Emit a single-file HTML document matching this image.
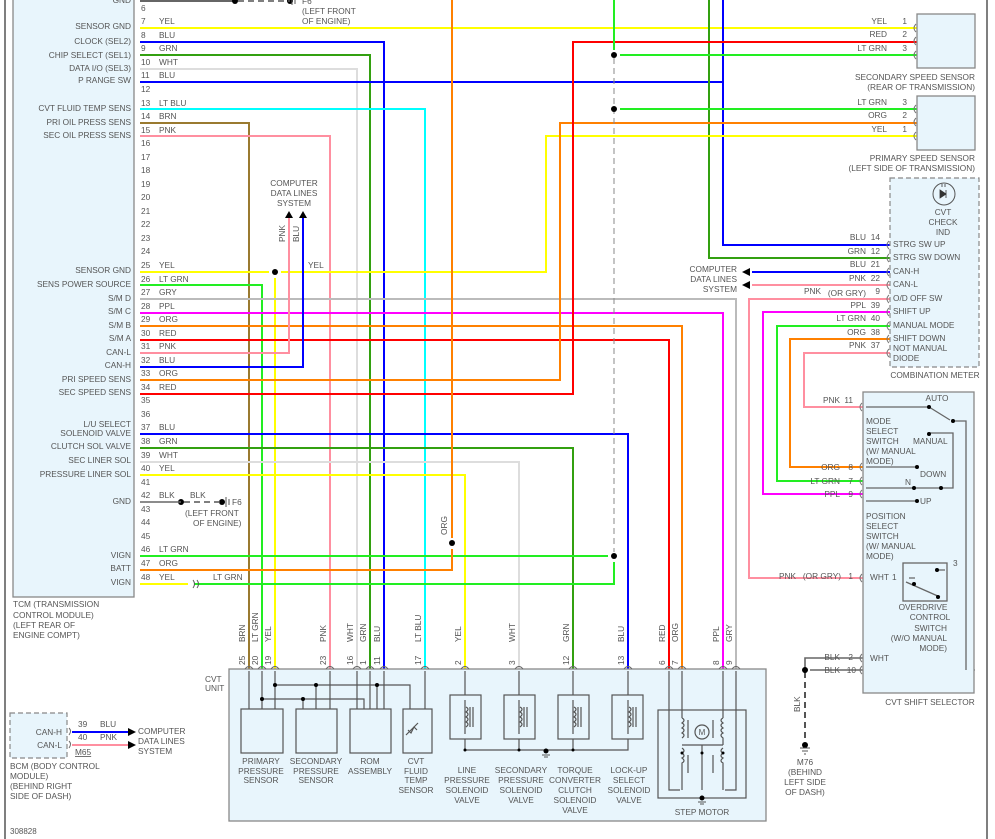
<!DOCTYPE html>
<html><head><meta charset="utf-8"><style>
html,body{margin:0;padding:0;background:#fff}
svg{display:block}
text{font-family:"Liberation Sans",sans-serif;font-size:8.3px;fill:#555}
.w{fill:none;stroke-width:2}
.k{fill:none;stroke:#666;stroke-width:1.3}
.r{text-anchor:end}
.m{text-anchor:middle}
</style></head><body>
<svg width="995" height="839" viewBox="0 0 995 839" xmlns="http://www.w3.org/2000/svg">
<defs>
<pattern id="zz" patternUnits="userSpaceOnUse" x="0" y="1" width="10" height="13.55">
<path d="M137.5,0 q4,3.4 0,6.8 q4,3.4 0,6.75" fill="none" stroke="#777" stroke-width="1"/>
</pattern>
</defs>
<line x1="5" y1="0" x2="5" y2="839" stroke="#555" stroke-width="1.5"/>
<line x1="987" y1="0" x2="987" y2="839" stroke="#555" stroke-width="1.5"/>

<rect x="13" y="-2" width="121" height="599" fill="#e8f5fc" stroke="#888" stroke-width="1.3"/>
<rect x="136" y="1" width="7" height="589" fill="url(#zz)"/>

<g class="w">
<line x1="140" y1="1" x2="235" y2="1" stroke="#666"/>
<path d="M140,28 H917" stroke="#ffff00"/>
<path d="M140,42 H384 V669" stroke="#0000ff"/>
<path d="M140,55 H370 V669" stroke="#33a010"/>
<path d="M140,69 H357 V669" stroke="#dddddd"/>
<path d="M140,82 H723 M723,0 V245 H917" stroke="#0000ff"/>
<path d="M709,0 V258 H917" stroke="#33a010"/>
<path d="M140,109 H425 V669" stroke="#00ffff"/>
<path d="M140,123 H249 V669" stroke="#9a7a30"/>
<path d="M140,136 H330 V669" stroke="#ff8fa0"/>
<path d="M140,272 H269 M281,272 H546 V136 H917" stroke="#ffff00"/>
<path d="M275,278 V669" stroke="#ffff00"/>
<path d="M140,285 H262 V669" stroke="#22ee22"/>
<path d="M140,299 H736 V669" stroke="#bbbbbb"/>
<path d="M140,313 H723 V669" stroke="#ff00ff"/>
<path d="M140,326 H682 V669" stroke="#ff8000"/>
<path d="M140,340 H669 V669" stroke="#ff0000"/>
<path d="M140,353 H289 V218" stroke="#ff8fa0"/>
<path d="M140,367 H303 V218" stroke="#0000ff"/>
<path d="M140,380 H560 V123 H917" stroke="#ff8000"/>
<path d="M140,394 H573 V42 H917" stroke="#ff0000"/>
<path d="M140,434 H628 V669" stroke="#0000ff"/>
<path d="M140,448 H573 V669" stroke="#33a010"/>
<path d="M140,462 H519 V669" stroke="#dddddd"/>
<path d="M140,475 H465 V669" stroke="#ffff00"/>
<path d="M140,556 H608" stroke="#22ee22"/>
<path d="M140,570 H452 V549 M452,538 V0" stroke="#ff8000"/>
<path d="M140,584 H188" stroke="#ffff00"/>
<path d="M194,584 H614 V562" stroke="#22ee22"/>
<path d="M614,0 V50 M620,55 H917 M620,109 H917" stroke="#22ee22"/>
<path d="M917,299 H749 V578 H863" stroke="#ff8fa0"/>
<path d="M917,312 H763 V494 H863" stroke="#ff00ff"/>
<path d="M917,326 H777 V481 H863" stroke="#22ee22"/>
<path d="M917,339 H790 V467 H863" stroke="#ff8000"/>
<path d="M917,353 H804 V407 H863" stroke="#ff8fa0"/>
<path d="M917,272 H752" stroke="#0000ff"/>
<path d="M917,285 H752" stroke="#ff8fa0"/>
<path d="M72,732 H130" stroke="#0000ff"/>
<path d="M72,745 H130" stroke="#ff8fa0"/>
<path d="M863,658 H805 V670" stroke="#666" stroke-width="1.6"/>
<path d="M810,670 H863" stroke="#666" stroke-width="1.6"/>
<path d="M863,578 H900" stroke="#ddd" stroke-width="1.6"/>
<path d="M863,658 H965 V568 H956" stroke="#ddd" stroke-width="1.6"/>
<path d="M863,670 H975" stroke="#777" stroke-width="1.3"/>
</g>
<g fill="none" stroke="#777" stroke-width="1">
<path d="M916,24 q-4,4 0,8 M916,37 q-4,4 0,8 M916,51 q-4,4 0,8 M916,105 q-4,4 0,8 M916,118 q-4,4 0,8 M916,132 q-4,4 0,8"/>
<path d="M889,241 q-4,4 0,8 M889,254 q-4,4 0,8 M889,268 q-4,4 0,8 M889,281 q-4,4 0,8 M889,295 q-4,4 0,8 M889,308 q-4,4 0,8 M889,322 q-4,4 0,8 M889,335 q-4,4 0,8 M889,349 q-4,4 0,8"/>
<path d="M862,403 q-4,4 0,8 M862,463 q-4,4 0,8 M862,477 q-4,4 0,8 M862,490 q-4,4 0,8 M862,574 q-4,4 0,8 M862,654 q-4,4 0,8 M862,666 q-4,4 0,8 M902,574 q-4,4 0,8 M951,566 q4,4 0,8"/>
</g>
<line x1="614" y1="58" x2="614" y2="552" stroke="#888" stroke-width="1" stroke-dasharray="6,4"/>
<line x1="805" y1="672" x2="805" y2="740" stroke="#555" stroke-width="2" stroke-dasharray="6,4"/>
<g fill="#000">
<circle cx="614" cy="55" r="3"/><circle cx="614" cy="109" r="3"/><circle cx="614" cy="556" r="3"/>
<circle cx="452" cy="543" r="3"/><circle cx="275" cy="272" r="3"/>
<circle cx="235" cy="1" r="3"/><circle cx="290" cy="1" r="3"/>
<circle cx="181" cy="502" r="3"/><circle cx="222" cy="502" r="3"/>
<circle cx="805" cy="670" r="3"/><circle cx="805" cy="745" r="3"/>
</g>
<line x1="140" y1="502" x2="181" y2="502" stroke="#666" stroke-width="1.6"/>
<line x1="184" y1="502" x2="222" y2="502" stroke="#555" stroke-width="1.6" stroke-dasharray="6,4"/>
<line x1="238" y1="1" x2="290" y2="1" stroke="#555" stroke-width="1.6" stroke-dasharray="6,4"/>
<path d="M226,497 v10 M229,499 v6 M193,580 q3,4 0,8 M197,580 q3,4 0,8" stroke="#555" fill="none"/>
<path d="M292,-3 v8 M295,-2 v6" stroke="#555"/>
<path d="M800,748 h10 M802,751 h6 M804,754 h2" stroke="#555"/>
<g fill="#000">
<path d="M285,218 l4,-7 l4,7z"/><path d="M299,218 l4,-7 l4,7z"/>
<path d="M742,272 l8,-4 v8z"/><path d="M742,285 l8,-4 v8z"/>
<path d="M128,728 l8,4 l-8,4z"/><path d="M128,741 l8,4 l-8,4z"/>
</g>

<g>
<text x="131" y="3" class="r">GND</text>
<text x="131" y="29" class="r">SENSOR GND</text>
<text x="131" y="44" class="r">CLOCK (SEL2)</text>
<text x="131" y="58" class="r">CHIP SELECT (SEL1)</text>
<text x="131" y="71" class="r">DATA I/O (SEL3)</text>
<text x="131" y="83" class="r">P RANGE SW</text>
<text x="131" y="111" class="r">CVT FLUID TEMP SENS</text>
<text x="131" y="125" class="r">PRI OIL PRESS SENS</text>
<text x="131" y="138" class="r">SEC OIL PRESS SENS</text>
<text x="131" y="273" class="r">SENSOR GND</text>
<text x="131" y="287" class="r">SENS POWER SOURCE</text>
<text x="131" y="301" class="r">S/M D</text>
<text x="131" y="314" class="r">S/M C</text>
<text x="131" y="328" class="r">S/M B</text>
<text x="131" y="341" class="r">S/M A</text>
<text x="131" y="355" class="r">CAN-L</text>
<text x="131" y="368" class="r">CAN-H</text>
<text x="131" y="382" class="r">PRI SPEED SENS</text>
<text x="131" y="395" class="r">SEC SPEED SENS</text>
<text x="131" y="427" class="r">L/U SELECT</text>
<text x="131" y="436" class="r">SOLENOID VALVE</text>
<text x="131" y="449" class="r">CLUTCH SOL VALVE</text>
<text x="131" y="463" class="r">SEC LINER SOL</text>
<text x="131" y="477" class="r">PRESSURE LINER SOL</text>
<text x="131" y="504" class="r">GND</text>
<text x="131" y="558" class="r">VIGN</text>
<text x="131" y="571" class="r">BATT</text>
<text x="131" y="585" class="r">VIGN</text>
<text x="13" y="607">TCM (TRANSMISSION</text>
<text x="13" y="618">CONTROL MODULE)</text>
<text x="13" y="628">(LEFT REAR OF</text>
<text x="13" y="638">ENGINE COMPT)</text>
<text x="10" y="834" style="font-size:8px">308828</text>
</g>
<g>
<text x="141" y="11">6</text>
<text x="141" y="24">7</text><text x="159" y="24">YEL</text>
<text x="141" y="38">8</text><text x="159" y="38">BLU</text>
<text x="141" y="51">9</text><text x="159" y="51">GRN</text>
<text x="141" y="65">10</text><text x="159" y="65">WHT</text>
<text x="141" y="78">11</text><text x="159" y="78">BLU</text>
<text x="141" y="92">12</text>
<text x="141" y="106">13</text><text x="159" y="106">LT BLU</text>
<text x="141" y="119">14</text><text x="159" y="119">BRN</text>
<text x="141" y="133">15</text><text x="159" y="133">PNK</text>
<text x="141" y="146">16</text><text x="141" y="160">17</text><text x="141" y="173">18</text>
<text x="141" y="187">19</text><text x="141" y="200">20</text><text x="141" y="214">21</text>
<text x="141" y="227">22</text><text x="141" y="241">23</text><text x="141" y="254">24</text>
<text x="141" y="268">25</text><text x="159" y="268">YEL</text>
<text x="141" y="282">26</text><text x="159" y="282">LT GRN</text>
<text x="141" y="295">27</text><text x="159" y="295">GRY</text>
<text x="141" y="309">28</text><text x="159" y="309">PPL</text>
<text x="141" y="322">29</text><text x="159" y="322">ORG</text>
<text x="141" y="336">30</text><text x="159" y="336">RED</text>
<text x="141" y="349">31</text><text x="159" y="349">PNK</text>
<text x="141" y="363">32</text><text x="159" y="363">BLU</text>
<text x="141" y="376">33</text><text x="159" y="376">ORG</text>
<text x="141" y="390">34</text><text x="159" y="390">RED</text>
<text x="141" y="403">35</text><text x="141" y="417">36</text>
<text x="141" y="430">37</text><text x="159" y="430">BLU</text>
<text x="141" y="444">38</text><text x="159" y="444">GRN</text>
<text x="141" y="458">39</text><text x="159" y="458">WHT</text>
<text x="141" y="471">40</text><text x="159" y="471">YEL</text>
<text x="141" y="485">41</text>
<text x="141" y="498">42</text><text x="159" y="498">BLK</text><text x="190" y="498">BLK</text>
<text x="141" y="512">43</text><text x="141" y="525">44</text><text x="141" y="539">45</text>
<text x="141" y="552">46</text><text x="159" y="552">LT GRN</text>
<text x="141" y="566">47</text><text x="159" y="566">ORG</text>
<text x="141" y="580">48</text><text x="159" y="580">YEL</text><text x="213" y="580">LT GRN</text>
<text x="232" y="505">F6</text>
<text x="185" y="516">(LEFT FRONT</text><text x="193" y="526">OF ENGINE)</text>
<text x="302" y="4">F6</text>
<text x="302" y="14">(LEFT FRONT</text><text x="302" y="24">OF ENGINE)</text>
<text x="294" y="186" class="m">COMPUTER</text><text x="294" y="196" class="m">DATA LINES</text><text x="294" y="206" class="m">SYSTEM</text>
<text x="308" y="268">YEL</text>
<text transform="translate(285,242) rotate(-90)">PNK</text>
<text transform="translate(299,242) rotate(-90)">BLU</text>
<text transform="translate(447,535) rotate(-90)">ORG</text>
</g>

<rect x="917" y="14" width="58" height="54" fill="#e8f5fc" stroke="#888" stroke-width="1.3"/>
<rect x="917" y="96" width="58" height="54" fill="#e8f5fc" stroke="#888" stroke-width="1.3"/>
<g>
<text x="887" y="24" class="r">YEL</text><text x="907" y="24" class="r">1</text>
<text x="887" y="37" class="r">RED</text><text x="907" y="37" class="r">2</text>
<text x="887" y="51" class="r">LT GRN</text><text x="907" y="51" class="r">3</text>
<text x="975" y="80" class="r">SECONDARY SPEED SENSOR</text>
<text x="975" y="90" class="r">(REAR OF TRANSMISSION)</text>
<text x="887" y="105" class="r">LT GRN</text><text x="907" y="105" class="r">3</text>
<text x="887" y="118" class="r">ORG</text><text x="907" y="118" class="r">2</text>
<text x="887" y="132" class="r">YEL</text><text x="907" y="132" class="r">1</text>
<text x="975" y="161" class="r">PRIMARY SPEED SENSOR</text>
<text x="975" y="171" class="r">(LEFT SIDE OF TRANSMISSION)</text>
</g>
<rect x="890" y="178" width="89" height="189" fill="#e8f5fc" stroke="#888" stroke-width="1.2" stroke-dasharray="5,3"/>
<circle cx="944" cy="194" r="11" fill="none" stroke="#555"/>
<path d="M940,190 l6,4 l-6,4z M946,190 v8 M942,187 v-3 M945,187 v-3" fill="#333" stroke="#333" stroke-width="0.8"/>
<text x="943" y="215" class="m">CVT</text><text x="943" y="225" class="m">CHECK</text><text x="943" y="235" class="m">IND</text>
<text x="893" y="247">STRG SW UP</text>
<text x="893" y="260">STRG SW DOWN</text>
<text x="893" y="274">CAN-H</text>
<text x="893" y="287">CAN-L</text>
<text x="893" y="301">O/D OFF SW</text>
<text x="893" y="314">SHIFT UP</text>
<text x="893" y="328">MANUAL MODE</text>
<text x="893" y="341">SHIFT DOWN</text>
<text x="893" y="351">NOT MANUAL</text>
<text x="893" y="361">DIODE</text>
<text x="935" y="378" class="m">COMBINATION METER</text>
<text x="866" y="240" class="r">BLU</text><text x="880" y="240" class="r">14</text>
<text x="866" y="254" class="r">GRN</text><text x="880" y="254" class="r">12</text>
<text x="866" y="267" class="r">BLU</text><text x="880" y="267" class="r">21</text>
<text x="866" y="281" class="r">PNK</text><text x="880" y="281" class="r">22</text>
<text x="821" y="294" class="r">PNK</text><text x="866" y="296" class="r">(OR GRY)</text><text x="880" y="294" class="r">9</text>
<text x="866" y="308" class="r">PPL</text><text x="880" y="308" class="r">39</text>
<text x="866" y="321" class="r">LT GRN</text><text x="880" y="321" class="r">40</text>
<text x="866" y="335" class="r">ORG</text><text x="880" y="335" class="r">38</text>
<text x="866" y="348" class="r">PNK</text><text x="880" y="348" class="r">37</text>
<text x="737" y="272" class="r">COMPUTER</text><text x="737" y="282" class="r">DATA LINES</text><text x="737" y="292" class="r">SYSTEM</text>

<rect x="863" y="392" width="111" height="301" fill="#e8f5fc" stroke="#888" stroke-width="1.3"/>
<g fill="none" stroke="#666" stroke-width="1.3">
<path d="M866,407 H929 L950,420 M953,421 H966 V670"/>
<path d="M929,433 H953 V488 H866"/>
<path d="M866,467 H917 M866,501 H917"/>
<rect x="903" y="563" width="44" height="38" fill="#e8f5fc"/>
<path d="M906,582 L940,597 M915,578 h-6 M936,570 h9"/>
</g>
<g fill="#000"><circle cx="929" cy="407" r="2"/><circle cx="953" cy="421" r="2"/><circle cx="929" cy="434" r="2"/>
<circle cx="917" cy="467" r="2"/><circle cx="914" cy="488" r="2"/><circle cx="941" cy="488" r="2"/><circle cx="917" cy="501" r="2"/>
<circle cx="914" cy="584" r="2"/><circle cx="938" cy="597" r="2"/><circle cx="937" cy="570" r="2"/></g>
<text x="937" y="401" class="m">AUTO</text>
<text x="866" y="424">MODE</text><text x="866" y="434">SELECT</text><text x="866" y="444">SWITCH</text><text x="866" y="454">(W/ MANUAL</text><text x="866" y="464">MODE)</text>
<text x="913" y="444">MANUAL</text>
<text x="920" y="477">DOWN</text><text x="905" y="485">N</text><text x="920" y="504">UP</text>
<text x="866" y="519">POSITION</text><text x="866" y="529">SELECT</text><text x="866" y="539">SWITCH</text><text x="866" y="549">(W/ MANUAL</text><text x="866" y="559">MODE)</text>
<text x="870" y="580">WHT</text><text x="892" y="580">1</text><text x="953" y="566">3</text>
<text x="923" y="610" class="m">OVERDRIVE</text><text x="930" y="620" class="m">CONTROL</text><text x="947" y="631" class="r">SWITCH</text>
<text x="947" y="641" class="r">(W/O MANUAL</text><text x="947" y="651" class="r">MODE)</text>
<text x="870" y="661">WHT</text>
<text x="930" y="705" class="m">CVT SHIFT SELECTOR</text>
<text x="840" y="403" class="r">PNK</text><text x="853" y="403" class="r">11</text>
<text x="840" y="470" class="r">ORG</text><text x="853" y="470" class="r">8</text>
<text x="840" y="484" class="r">LT GRN</text><text x="853" y="484" class="r">7</text>
<text x="840" y="497" class="r">PPL</text><text x="853" y="497" class="r">9</text>
<text x="796" y="579" class="r">PNK</text><text x="841" y="579" class="r">(OR GRY)</text><text x="853" y="579" class="r">1</text>
<text x="840" y="660" class="r">BLK</text><text x="853" y="660" class="r">2</text>
<text x="840" y="673" class="r">BLK</text><text x="856" y="673" class="r">10</text>
<text transform="translate(800,712) rotate(-90)">BLK</text>
<text x="805" y="765" class="m">M76</text><text x="805" y="775" class="m">(BEHIND</text><text x="805" y="785" class="m">LEFT SIDE</text><text x="805" y="795" class="m">OF DASH)</text>

<rect x="229" y="669" width="537" height="152" fill="#e8f5fc" stroke="#888" stroke-width="1.3"/>
<text x="205" y="682">CVT</text><text x="205" y="691">UNIT</text>
<g fill="none" stroke="#666" stroke-width="1">
<path d="M245,669 q4,-5 8,0 M258,669 q4,-5 8,0 M271,669 q4,-5 8,0 M326,669 q4,-5 8,0 M353,669 q4,-5 8,0 M366,669 q4,-5 8,0 M380,669 q4,-5 8,0 M421,669 q4,-5 8,0 M461,669 q4,-5 8,0 M515,669 q4,-5 8,0 M569,669 q4,-5 8,0 M624,669 q4,-5 8,0 M665,669 q4,-5 8,0 M678,669 q4,-5 8,0 M719,669 q4,-5 8,0 M732,669 q4,-5 8,0"/>
</g>
<g fill="none" stroke="#555" stroke-width="1.2">
<path d="M249,671 V709 M262,671 V709 M275,671 V709 M330,671 V709 M357,671 V709 M370,671 V709 M384,671 V709 M425,671 V745 H415"/>
<path d="M275,685 H410 V735 M316,685 V709 M377,685 V709 M262,699 H364 V709 M303,699 V709"/>
<path d="M465,671 V750 H628 V671 M519,671 V750 M573,671 V750"/>
<path d="M669,671 V790 H680 M682,671 V718 M723,671 V718 M736,671 V790 H725 M682,773 V790 M723,773 V790 M682,745 H723 M702,745 V790"/>
<rect x="241" y="709" width="42" height="44" fill="#e8f5fc"/>
<rect x="296" y="709" width="41" height="44" fill="#e8f5fc"/>
<rect x="350" y="709" width="41" height="44" fill="#e8f5fc"/>
<rect x="403" y="709" width="29" height="44" fill="#e8f5fc"/>
<rect x="450" y="695" width="31" height="44" fill="#e8f5fc"/>
<rect x="504" y="695" width="31" height="44" fill="#e8f5fc"/>
<rect x="558" y="695" width="31" height="44" fill="#e8f5fc"/>
<rect x="612" y="695" width="31" height="44" fill="#e8f5fc"/>
<rect x="658" y="710" width="88" height="88"/>
<path d="M465,700 V734 M519,700 V734 M573,700 V734 M628,700 V734"/>
<path d="M466,707 q4,2 0,5 q4,2 0,5 q4,2 0,5 q4,2 0,5 M470,707 v20 M473,707 v20 M520,707 q4,2 0,5 q4,2 0,5 q4,2 0,5 q4,2 0,5 M524,707 v20 M527,707 v20 M574,707 q4,2 0,5 q4,2 0,5 q4,2 0,5 q4,2 0,5 M578,707 v20 M581,707 v20 M629,707 q4,2 0,5 q4,2 0,5 q4,2 0,5 q4,2 0,5 M633,707 v20 M636,707 v20"/>
<path d="M406,735 l12,-12 M408,730 l3,3 l3,-6 l3,3"/>
<path d="M682,718 q4,2 0,5 q4,2 0,5 q4,2 0,5 q4,2 0,5 M682,773 V763 q4,-2 0,-5 q4,-2 0,-5 q4,-2 0,-5 M723,718 q-4,2 0,5 q-4,2 0,5 q-4,2 0,5 q-4,2 0,5 V745 M723,773 V763 q-4,-2 0,-5 q-4,-2 0,-5 q-4,-2 0,-5 M688,720 v18 M713,720 v18 M688,755 v18 M713,755 v18"/>
<circle cx="702" cy="732" r="7"/>
</g>
<text x="702" y="735" class="m" style="font-size:8px">M</text>
<g fill="#000"><circle cx="275" cy="685" r="2"/><circle cx="316" cy="685" r="2"/><circle cx="377" cy="685" r="2"/><circle cx="262" cy="699" r="2"/><circle cx="303" cy="699" r="2"/>
<circle cx="465" cy="750" r="1.5"/><circle cx="519" cy="750" r="1.5"/><circle cx="573" cy="750" r="1.5"/><circle cx="546" cy="751" r="2.5"/>
<circle cx="682" cy="753" r="1.5"/><circle cx="702" cy="753" r="1.5"/><circle cx="723" cy="753" r="1.5"/><circle cx="702" cy="798" r="2.5"/></g>
<path d="M542,755 h8 M544,757 h4 M698,802 h8 M700,804 h4" stroke="#555"/>
<g>
<text transform="translate(245,665) rotate(-90)">25</text><text transform="translate(245,642) rotate(-90)">BRN</text>
<text transform="translate(258,665) rotate(-90)">20</text><text transform="translate(258,642) rotate(-90)">LT GRN</text>
<text transform="translate(271,665) rotate(-90)">19</text><text transform="translate(271,642) rotate(-90)">YEL</text>
<text transform="translate(326,665) rotate(-90)">23</text><text transform="translate(326,642) rotate(-90)">PNK</text>
<text transform="translate(353,665) rotate(-90)">16</text><text transform="translate(353,642) rotate(-90)">WHT</text>
<text transform="translate(366,665) rotate(-90)">1</text><text transform="translate(366,642) rotate(-90)">GRN</text>
<text transform="translate(380,665) rotate(-90)">11</text><text transform="translate(380,642) rotate(-90)">BLU</text>
<text transform="translate(421,665) rotate(-90)">17</text><text transform="translate(421,642) rotate(-90)">LT BLU</text>
<text transform="translate(461,665) rotate(-90)">2</text><text transform="translate(461,642) rotate(-90)">YEL</text>
<text transform="translate(515,665) rotate(-90)">3</text><text transform="translate(515,642) rotate(-90)">WHT</text>
<text transform="translate(569,665) rotate(-90)">12</text><text transform="translate(569,642) rotate(-90)">GRN</text>
<text transform="translate(624,665) rotate(-90)">13</text><text transform="translate(624,642) rotate(-90)">BLU</text>
<text transform="translate(665,665) rotate(-90)">6</text><text transform="translate(665,642) rotate(-90)">RED</text>
<text transform="translate(678,665) rotate(-90)">7</text><text transform="translate(678,642) rotate(-90)">ORG</text>
<text transform="translate(719,665) rotate(-90)">8</text><text transform="translate(719,642) rotate(-90)">PPL</text>
<text transform="translate(732,665) rotate(-90)">9</text><text transform="translate(732,642) rotate(-90)">GRY</text>
</g>
<g>
<text x="261" y="764" class="m">PRIMARY</text><text x="261" y="774" class="m">PRESSURE</text><text x="261" y="783" class="m">SENSOR</text>
<text x="316" y="764" class="m">SECONDARY</text><text x="316" y="774" class="m">PRESSURE</text><text x="316" y="783" class="m">SENSOR</text>
<text x="370" y="764" class="m">ROM</text><text x="370" y="774" class="m">ASSEMBLY</text>
<text x="416" y="764" class="m">CVT</text><text x="416" y="774" class="m">FLUID</text><text x="416" y="783" class="m">TEMP</text><text x="416" y="793" class="m">SENSOR</text>
<text x="467" y="773" class="m">LINE</text><text x="467" y="783" class="m">PRESSURE</text><text x="467" y="793" class="m">SOLENOID</text><text x="467" y="803" class="m">VALVE</text>
<text x="521" y="773" class="m">SECONDARY</text><text x="521" y="783" class="m">PRESSURE</text><text x="521" y="793" class="m">SOLENOID</text><text x="521" y="803" class="m">VALVE</text>
<text x="575" y="773" class="m">TORQUE</text><text x="575" y="783" class="m">CONVERTER</text><text x="575" y="793" class="m">CLUTCH</text><text x="575" y="803" class="m">SOLENOID</text><text x="575" y="813" class="m">VALVE</text>
<text x="629" y="773" class="m">LOCK-UP</text><text x="629" y="783" class="m">SELECT</text><text x="629" y="793" class="m">SOLENOID</text><text x="629" y="803" class="m">VALVE</text>
<text x="702" y="815" class="m">STEP MOTOR</text>
</g>

<rect x="10" y="713" width="57" height="45" fill="#e8f5fc" stroke="#888" stroke-width="1.2" stroke-dasharray="5,3"/>
<path d="M69,728 q3,3 0,7 M69,741 q3,3 0,7" fill="none" stroke="#666"/>
<text x="62" y="735" class="r">CAN-H</text><text x="62" y="748" class="r">CAN-L</text>
<text x="78" y="727">39</text><text x="100" y="727">BLU</text>
<text x="78" y="740">40</text><text x="100" y="740">PNK</text>
<text x="75" y="755" style="text-decoration:underline">M65</text>
<text x="138" y="734">COMPUTER</text><text x="138" y="744">DATA LINES</text><text x="138" y="754">SYSTEM</text>
<text x="10" y="769">BCM (BODY CONTROL</text><text x="10" y="779">MODULE)</text><text x="10" y="789">(BEHIND RIGHT</text><text x="10" y="799">SIDE OF DASH)</text>
</svg>
</body></html>
